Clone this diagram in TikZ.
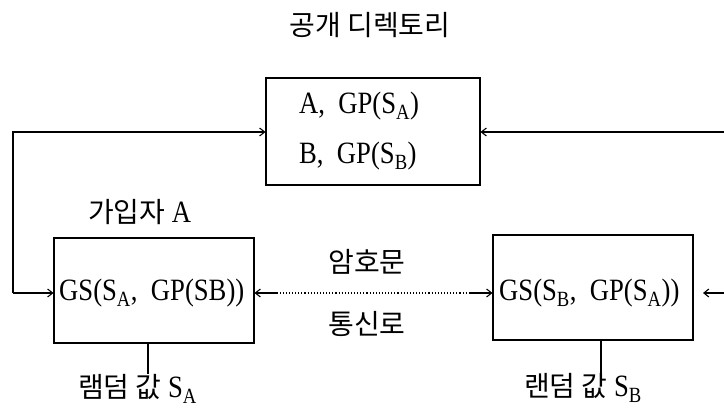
\documentclass[tikz,border=0pt]{standalone}
\usepackage{fontspec}
\setmainfont[FakeStretch=0.86]{Liberation Serif}
\newfontfamily\kr{Noto Sans CJK KR}
\usetikzlibrary{arrows.meta,calc}
\tikzset{
  boxnode/.style={draw, line width=1.1pt, inner sep=0pt},
  lbl/.style={inner sep=0pt, font=\fontsize{31}{34}\selectfont},
  krl/.style={inner sep=0pt, font=\kr\fontsize{28}{32}\selectfont},
  link/.style={line width=1.1pt},
  arr/.style={line width=1.1pt, -{Straight Barb[length=5pt,width=8pt]}},
  dots/.style={line width=1.1pt, dotted}
}
\newcommand\latin[1]{{\rmfamily\fontsize{31}{34}\selectfont #1}}
\begin{document}
\begin{tikzpicture}[x=1pt,y=-1pt]
\useasboundingbox (0,0) rectangle (724,409);
% title
\node[krl] (title) at (370,25) {공개 디렉토리};
% boxes
\node[boxnode, minimum width=214pt, minimum height=107pt] (dir) at (373,131.5) {};
\node[boxnode, minimum width=200pt, minimum height=105pt] (boxA) at (154,290.5) {};
\node[boxnode, minimum width=200pt, minimum height=105pt] (boxB) at (593,287.5) {};
% texts
\node[lbl, anchor=west] (dirA) at (299,106) {A,\ \ GP(S\textsubscript{A})};
\node[lbl, anchor=west] (dirB) at (299,156) {B,\ \ GP(S\textsubscript{B})};
\node[lbl, anchor=west] (gsA) at (59,293) {GS(S\textsubscript{A},\ \ GP(SB))};
\node[lbl, anchor=west] (gsB) at (499,293) {GS(S\textsubscript{B},\ \ GP(S\textsubscript{A}))};
\node[krl, anchor=west] (subA) at (88,212) {가입자 \latin{A}};
\node[krl] (cipher) at (367,262) {암호문};
\node[krl] (channel) at (367,324) {통신로};
\node[krl, anchor=west] (randA) at (78,389) {램덤 값 \latin{S\textsubscript{A}}};
\node[krl, anchor=west] (randB) at (524,388) {랜덤 값 \latin{S\textsubscript{B}}};
% coordinates
\coordinate (ly) at (0,293);
\coordinate (ty) at (0,132);
\coordinate (cL) at (13,132);
\coordinate (cLb) at (13,293);
\coordinate (cR) at (724,132);
\coordinate (cR2) at (724,293);
\coordinate (bTip) at (703,293);
\coordinate (stemA) at (148,0);
\coordinate (stemB) at (601,0);
% connectors
\draw[arr] (cLb) -- (boxA.west |- ly);
\draw[arr] (cLb) -- (cL) -- (dir.west |- ty);
\draw[arr] (cR) -- (dir.east |- ty);
\draw[arr] (cR2) -- (bTip);
\coordinate (dA) at ($(boxA.east |- ly)+(22,0)$);
\coordinate (dB) at ($(boxB.west |- ly)+(-22,0)$);
\draw[dots] (dA) -- (dB);
\draw[arr] (dA) -- (boxA.east |- ly);
\draw[arr] (dB) -- (boxB.west |- ly);
\draw[link] (stemA |- boxA.south) -- (stemA |- randA.north);
\draw[link] (stemB |- boxB.south) -- (stemB |- randB.north);
\end{tikzpicture}
\end{document}
